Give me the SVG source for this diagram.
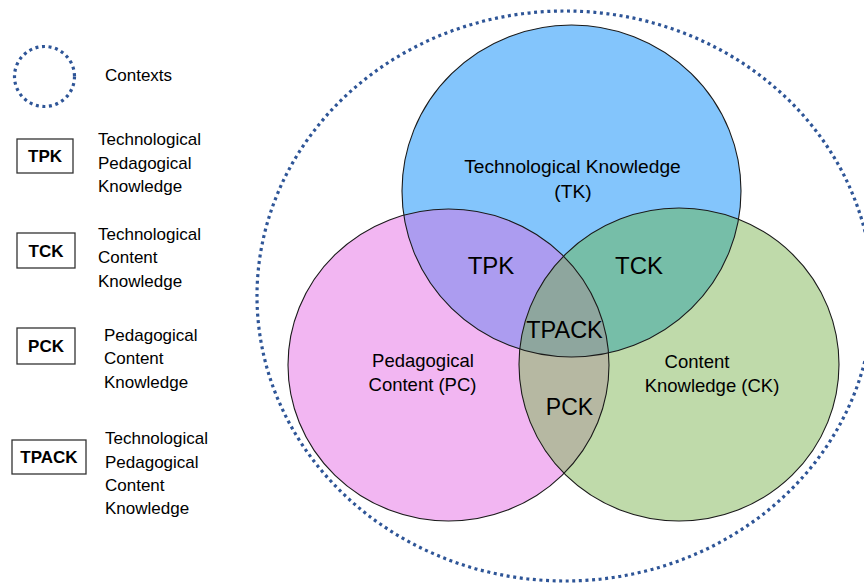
<svg xmlns="http://www.w3.org/2000/svg" width="864" height="583" viewBox="0 0 864 583">
  <style>
    .txt { font-family: "Liberation Sans", Arial, sans-serif; fill: #000; }
    .leg { font-size: 17px; }
    .box { fill: #fff; stroke: #333; stroke-width: 1.3; }
    .boxtxt { font-size: 17px; font-weight: bold; text-anchor: middle; }
    .dots { fill: none; stroke: #2E5597; stroke-width: 3.2; stroke-dasharray: 3 3.6; }
    .outline { fill: none; stroke: #1a1a1a; stroke-width: 1.1; }
    .big { font-size: 24px; text-anchor: middle; }
    .mid { font-size: 18.5px; text-anchor: middle; }
  </style>
  <defs>
    <clipPath id="cpBlue"><ellipse cx="571.5" cy="191" rx="169.5" ry="166"/></clipPath>
    <clipPath id="cpPink"><ellipse cx="448.5" cy="365" rx="160.5" ry="156"/></clipPath>
    <clipPath id="cpGreen"><ellipse cx="679" cy="364.5" rx="160" ry="156.5"/></clipPath>
  </defs>
  <rect width="864" height="583" fill="#fff"/>

  <!-- Legend -->
  <g id="legend-contexts">
    <circle class="dots" cx="44.5" cy="76.5" r="30"/>
    <text class="txt leg" x="105" y="81">Contexts</text>
  </g>
  <g id="legend-tpk">
    <rect class="box" x="17" y="139" width="56" height="34"/>
    <text class="txt boxtxt" x="45" y="162">TPK</text>
    <text class="txt leg" x="98" y="145">Technological</text>
    <text class="txt leg" x="98" y="169">Pedagogical</text>
    <text class="txt leg" x="98" y="192">Knowledge</text>
  </g>
  <g id="legend-tck">
    <rect class="box" x="17" y="233" width="58" height="35"/>
    <text class="txt boxtxt" x="46" y="257">TCK</text>
    <text class="txt leg" x="98" y="240">Technological</text>
    <text class="txt leg" x="98" y="263">Content</text>
    <text class="txt leg" x="98" y="287">Knowledge</text>
  </g>
  <g id="legend-pck">
    <rect class="box" x="17" y="328" width="58" height="36"/>
    <text class="txt boxtxt" x="46" y="352">PCK</text>
    <text class="txt leg" x="104" y="341">Pedagogical</text>
    <text class="txt leg" x="104" y="364">Content</text>
    <text class="txt leg" x="104" y="388">Knowledge</text>
  </g>
  <g id="legend-tpack">
    <rect class="box" x="12" y="440" width="74" height="34"/>
    <text class="txt boxtxt" x="49" y="463">TPACK</text>
    <text class="txt leg" x="105" y="444">Technological</text>
    <text class="txt leg" x="105" y="468">Pedagogical</text>
    <text class="txt leg" x="105" y="491">Content</text>
    <text class="txt leg" x="105" y="514">Knowledge</text>
  </g>

  <!-- Contexts outer boundary -->
  <g id="contexts">
    <ellipse class="dots" cx="565" cy="296" rx="308" ry="285"/>
  </g>

  <!-- Base circles -->
  <g id="pc">
    <ellipse cx="448.5" cy="365" rx="160.5" ry="156" fill="#F2B6F2"/>
  </g>
  <g id="ck">
    <ellipse cx="679" cy="364.5" rx="160" ry="156.5" fill="#BFDAAA"/>
  </g>
  <g id="tk">
    <ellipse cx="571.5" cy="191" rx="169.5" ry="166" fill="#83C5FC"/>
  </g>

  <!-- Overlaps -->
  <g id="tpk">
    <ellipse cx="448.5" cy="365" rx="160.5" ry="156" fill="#AC9CF0" clip-path="url(#cpBlue)"/>
  </g>
  <g id="tck">
    <ellipse cx="679" cy="364.5" rx="160" ry="156.5" fill="#76BEA8" clip-path="url(#cpBlue)"/>
  </g>
  <g id="pck">
    <ellipse cx="679" cy="364.5" rx="160" ry="156.5" fill="#B6B8A2" clip-path="url(#cpPink)"/>
  </g>
  <g id="tpack">
    <g clip-path="url(#cpBlue)">
      <ellipse cx="679" cy="364.5" rx="160" ry="156.5" fill="#8EA69E" clip-path="url(#cpPink)"/>
    </g>
  </g>

  <!-- Outlines -->
  <g id="outlines">
    <ellipse class="outline" cx="448.5" cy="365" rx="160.5" ry="156"/>
    <ellipse class="outline" cx="679" cy="364.5" rx="160" ry="156.5"/>
    <ellipse class="outline" cx="571.5" cy="191" rx="169.5" ry="166"/>
  </g>

  <!-- Labels -->
  <g id="labels">
    <text class="txt mid" x="572.5" y="173" style="font-size:19.2px">Technological Knowledge</text>
    <text class="txt mid" x="573" y="198" style="font-size:19.2px">(TK)</text>
    <text class="txt mid" x="423" y="367">Pedagogical</text>
    <text class="txt mid" x="422.5" y="391">Content (PC)</text>
    <text class="txt mid" x="697" y="368">Content</text>
    <text class="txt mid" x="712" y="392">Knowledge (CK)</text>
    <text class="txt big" x="491" y="274">TPK</text>
    <text class="txt big" x="639" y="274">TCK</text>
    <text class="txt big" x="564.5" y="338" style="font-size:23.5px">TPACK</text>
    <text class="txt big" x="569.5" y="415" style="font-size:23px">PCK</text>
  </g>
</svg>
